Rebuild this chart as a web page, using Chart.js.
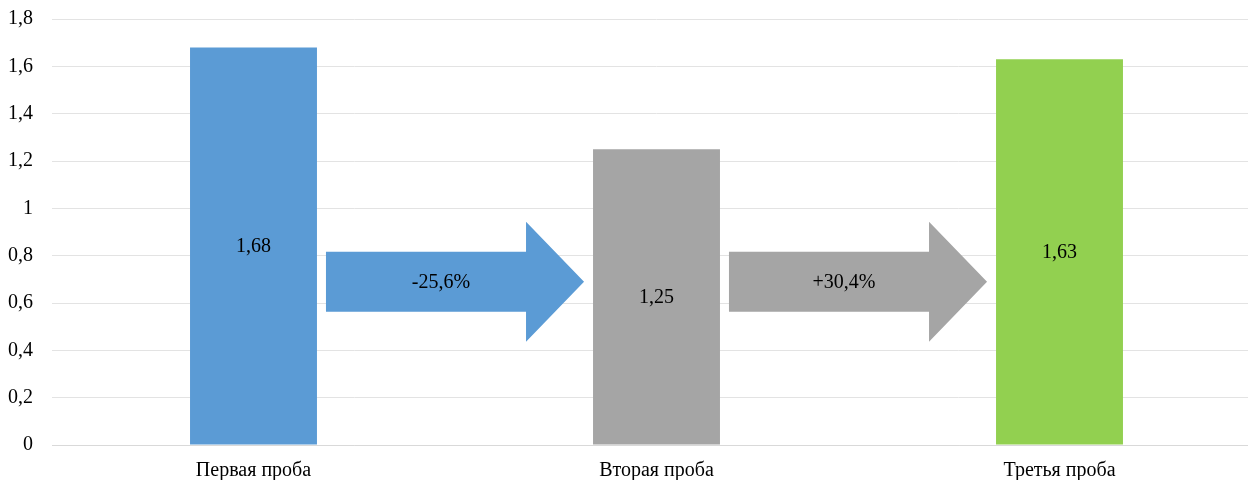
<!DOCTYPE html>
<html>
<head>
<meta charset="utf-8">
<script src="https://cdn.jsdelivr.net/npm/chart.js@4/dist/chart.umd.min.js"></script>
<style>
  html, body { margin: 0; padding: 0; background: #fff; overflow: hidden; }
  #wrap { width: 1261px; height: 480px; position: relative; }
</style>
</head>
<body>
<div id="wrap"><canvas id="c" width="1261" height="480"></canvas></div>
<script>
// Samples and measured values
const categories = ['Первая проба', 'Вторая проба', 'Третья проба'];
const values = [1.68, 1.25, 1.63];
const changeLabels = ['-25,6%', '+30,4%'];
const yTicks = [0, 0.2, 0.4, 0.6, 0.8, 1, 1.2, 1.4, 1.6, 1.8];

const barColors = ['#5B9BD5', '#A5A5A5', '#92D050'];
const FONT = '"Liberation Serif", "Times New Roman", serif';

const fmt = v => Number(v.toFixed(2)).toString().replace('.', ',');

// Value labels in the middle of each bar and the change arrows between bars
const annotate = {
  id: 'annotate',
  afterDatasetsDraw(chart) {
    const ctx = chart.ctx;
    const y = chart.scales.y;
    const meta = chart.getDatasetMeta(0);
    ctx.save();
    ctx.font = '20px ' + FONT;
    ctx.fillStyle = '#000';
    ctx.textAlign = 'center';
    ctx.textBaseline = 'middle';
    meta.data.forEach((bar, i) => {
      ctx.fillText(fmt(values[i]), bar.x, (bar.y + bar.base) / 2 + 1);
    });

    const gap = 9, headLen = 58, bodyHalf = 30, headHalf = 60;
    const cy = y.getPixelForValue(0.69);
    changeLabels.forEach((txt, i) => {
      const a = meta.data[i], b = meta.data[i + 1];
      const x0 = a.x + a.width / 2 + gap;
      const x1 = b.x - b.width / 2 - gap;
      const xh = x1 - headLen;
      ctx.beginPath();
      ctx.moveTo(x0, cy - bodyHalf);
      ctx.lineTo(xh, cy - bodyHalf);
      ctx.lineTo(xh, cy - headHalf);
      ctx.lineTo(x1, cy);
      ctx.lineTo(xh, cy + headHalf);
      ctx.lineTo(xh, cy + bodyHalf);
      ctx.lineTo(x0, cy + bodyHalf);
      ctx.closePath();
      ctx.fillStyle = barColors[i];
      ctx.fill();
      ctx.fillStyle = '#000';
      ctx.fillText(txt, (x0 + xh) / 2 + 15, cy + 1);
    });
    ctx.restore();
  }
};

new Chart(document.getElementById('c'), {
  type: 'bar',
  data: {
    labels: categories,
    datasets: [{
      data: values,
      backgroundColor: barColors,
      borderWidth: 0,
      categoryPercentage: 1,
      barPercentage: 0.315
    }]
  },
  options: {
    responsive: false,
    animation: false,
    layout: { padding: { top: 19, right: 0, bottom: 0, left: 0 } },
    plugins: { legend: { display: false }, tooltip: { enabled: false } },
    scales: {
      x: {
        grid: { display: false, drawTicks: false },
        border: { color: '#D9D9D9', width: 1 },
        ticks: { color: '#000', font: { family: FONT, size: 20 }, padding: 14, maxRotation: 0 },
        afterFit(s) { s.height = 35; }
      },
      y: {
        min: 0, max: 1.8,
        afterBuildTicks(s) { s.ticks = yTicks.map(v => ({ value: v })); },
        grid: { color: '#E3E3E3', drawTicks: false },
        border: { display: false },
        ticks: { color: '#000', font: { family: FONT, size: 20 }, padding: 19, callback: v => fmt(v) },
        afterFit(s) { s.width = 52; s.paddingTop = 0; s.paddingBottom = 0; }
      }
    }
  },
  plugins: [annotate]
});
</script>
</body>
</html>
